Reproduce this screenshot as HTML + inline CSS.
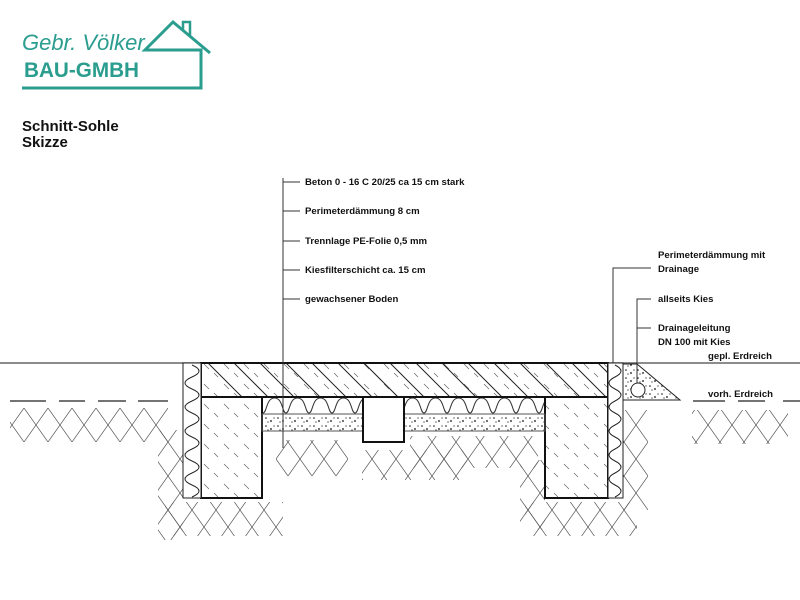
<!DOCTYPE html>
<html><head><meta charset="utf-8"><style>
body{margin:0;background:#fff}
svg{display:block}
text{font-family:"Liberation Sans",sans-serif}
.l{font-size:9.6px;font-weight:bold;fill:#111}
</style></head><body>
<svg width="800" height="600" viewBox="0 0 800 600" xmlns="http://www.w3.org/2000/svg">
<defs>
<pattern id="hd" width="20" height="20" patternUnits="userSpaceOnUse">
<line x1="4" y1="4" x2="9" y2="9" stroke="#666" stroke-width="0.7"/>
<line x1="14" y1="13" x2="18" y2="17" stroke="#666" stroke-width="0.7"/>
</pattern>
<pattern id="grav" width="12" height="8" patternUnits="userSpaceOnUse">
<circle cx="2" cy="2" r="0.8" fill="#111"/><circle cx="7" cy="5" r="0.9" fill="#111"/><circle cx="10" cy="2" r="0.6" fill="#111"/><circle cx="4" cy="6" r="0.6" fill="#111"/>
</pattern>
<pattern id="soil" width="24" height="34" patternUnits="userSpaceOnUse">
<path d="M0 0 L24 34 M24 0 L0 34" stroke="#555" stroke-width="0.7" fill="none"/>
</pattern>
<pattern id="wave" width="23" height="17" patternUnits="userSpaceOnUse" x="263" y="397">
<path d="M0 16 C4 16 3 1 11.5 1 C20 1 19 16 23 16" fill="none" stroke="#333" stroke-width="1"/>
</pattern>
<clipPath id="slab"><rect x="201" y="363" width="407" height="34"/></clipPath>
</defs>

<!-- logo -->
<text x="22" y="50" font-size="22" font-style="italic" fill="#2a9d8f">Gebr. Völker</text>
<text x="24" y="77" font-size="21" font-weight="bold" fill="#2a9d8f" textLength="115" lengthAdjust="spacingAndGlyphs">BAU-GMBH</text>
<polyline points="22,88 201,88 201,50 145,50 173,22 210,53" fill="none" stroke="#2a9d8f" stroke-width="3"/>
<polyline points="183,30 183,22 190,22 190,36" fill="none" stroke="#2a9d8f" stroke-width="2.5"/>
<text x="22" y="131" font-size="15" font-weight="bold" fill="#111">Schnitt-Sohle</text>
<text x="22" y="147" font-size="15" font-weight="bold" fill="#111">Skizze</text>

<!-- soil -->
<g>
<rect x="10" y="408" width="158" height="34" fill="url(#soil)"/>
<rect x="158" y="430" width="25" height="110" fill="url(#soil)"/>
<rect x="165" y="502" width="118" height="34" fill="url(#soil)"/>
<rect x="276" y="440" width="72" height="36" fill="url(#soil)"/>
<rect x="362" y="450" width="105" height="30" fill="url(#soil)"/>
<rect x="410" y="436" width="128" height="32" fill="url(#soil)"/>
<rect x="520" y="460" width="25" height="70" fill="url(#soil)"/>
<rect x="525" y="502" width="112" height="34" fill="url(#soil)"/>
<rect x="623" y="410" width="25" height="100" fill="url(#soil)"/>
<rect x="692" y="410" width="96" height="34" fill="url(#soil)"/>
</g>

<!-- ground lines -->
<line x1="0" y1="363" x2="201" y2="363" stroke="#666" stroke-width="1.5"/>
<line x1="608" y1="363" x2="800" y2="363" stroke="#666" stroke-width="1.5"/>
<g stroke="#222" stroke-width="1.2">
<line x1="10" y1="401" x2="46" y2="401"/><line x1="59" y1="401" x2="85" y2="401"/><line x1="98" y1="401" x2="126" y2="401"/><line x1="138" y1="401" x2="168" y2="401"/>
<line x1="693" y1="401" x2="725" y2="401"/><line x1="738" y1="401" x2="765" y2="401"/><line x1="783" y1="401" x2="800" y2="401"/>
</g>

<!-- slab -->
<rect x="201" y="363" width="407" height="34" fill="url(#hd)"/>
<g clip-path="url(#slab)" stroke="#222" stroke-width="1">
<path d="M208 363 l34 34 M234 363 l34 34 M260 363 l34 34 M286 363 l34 34 M312 363 l34 34 M338 363 l34 34 M364 363 l34 34 M390 363 l34 34 M416 363 l34 34 M442 363 l34 34 M468 363 l34 34 M494 363 l34 34 M520 363 l34 34 M546 363 l34 34 M572 363 l34 34 M598 363 l34 34"/>
</g>
<rect x="201" y="363" width="407" height="34" fill="none" stroke="#111" stroke-width="2"/>
<!-- foundations -->
<rect x="201" y="397" width="61" height="101" fill="url(#hd)" stroke="#111" stroke-width="2"/>
<rect x="545" y="397" width="63" height="101" fill="url(#hd)" stroke="#111" stroke-width="2"/>
<!-- insulation strips -->
<rect x="183" y="363" width="18" height="135" fill="#fff" stroke="#222" stroke-width="1"/>
<rect x="608" y="363" width="15" height="135" fill="#fff" stroke="#222" stroke-width="1"/>
<path d="M192 365 q14 6 0 12 q-14 6 0 12 q14 6 0 12 q-14 6 0 12 q14 6 0 12 q-14 6 0 12 q14 6 0 12 q-14 6 0 12 q14 6 0 12 q-14 6 0 12 q14 6 0 12" fill="none" stroke="#222"/>
<path d="M615 365 q12 6 0 12 q-12 6 0 12 q12 6 0 12 q-12 6 0 12 q12 6 0 12 q-12 6 0 12 q12 6 0 12 q-12 6 0 12 q12 6 0 12 q-12 6 0 12 q12 6 0 12" fill="none" stroke="#222"/>
<!-- middle layers -->
<rect x="262" y="414" width="283" height="17" fill="url(#grav)" stroke="#555" stroke-width="1"/>
<rect x="263" y="398" width="281" height="16" fill="url(#wave)"/>
<rect x="363" y="397" width="41" height="45" fill="#fff" stroke="#111" stroke-width="2"/>

<!-- gravel triangle -->
<path d="M623 364 L637 364 L680 400 L623 400 Z" fill="url(#grav)" stroke="#222" stroke-width="1"/>
<circle cx="638" cy="390" r="7" fill="#fff" stroke="#222"/>

<!-- leaders -->
<g stroke="#333" stroke-width="1" fill="none">
<line x1="283" y1="178" x2="283" y2="448"/>
<line x1="283" y1="182" x2="300" y2="182"/><line x1="283" y1="211" x2="300" y2="211"/><line x1="283" y1="241" x2="300" y2="241"/><line x1="283" y1="270" x2="300" y2="270"/><line x1="283" y1="299" x2="300" y2="299"/>
<polyline points="613,363 613,268 651,268"/>
<polyline points="637,383 637,299 651,299"/>
<line x1="637" y1="328" x2="651" y2="328"/>
</g>
<g>
<text class="l" x="305" y="185">Beton 0 - 16  C 20/25  ca 15 cm stark</text>
<text class="l" x="305" y="214">Perimeterdämmung 8 cm</text>
<text class="l" x="305" y="244">Trennlage PE-Folie 0,5 mm</text>
<text class="l" x="305" y="273">Kiesfilterschicht ca. 15 cm</text>
<text class="l" x="305" y="302">gewachsener Boden</text>
<text class="l" x="658" y="258">Perimeterdämmung mit</text>
<text class="l" x="658" y="272">Drainage</text>
<text class="l" x="658" y="302">allseits Kies</text>
<text class="l" x="658" y="331">Drainageleitung</text>
<text class="l" x="658" y="345">DN 100 mit Kies</text>
<text class="l" x="708" y="359">gepl. Erdreich</text>
<text class="l" x="708" y="397">vorh. Erdreich</text>
</g>
</svg>
</body></html>
